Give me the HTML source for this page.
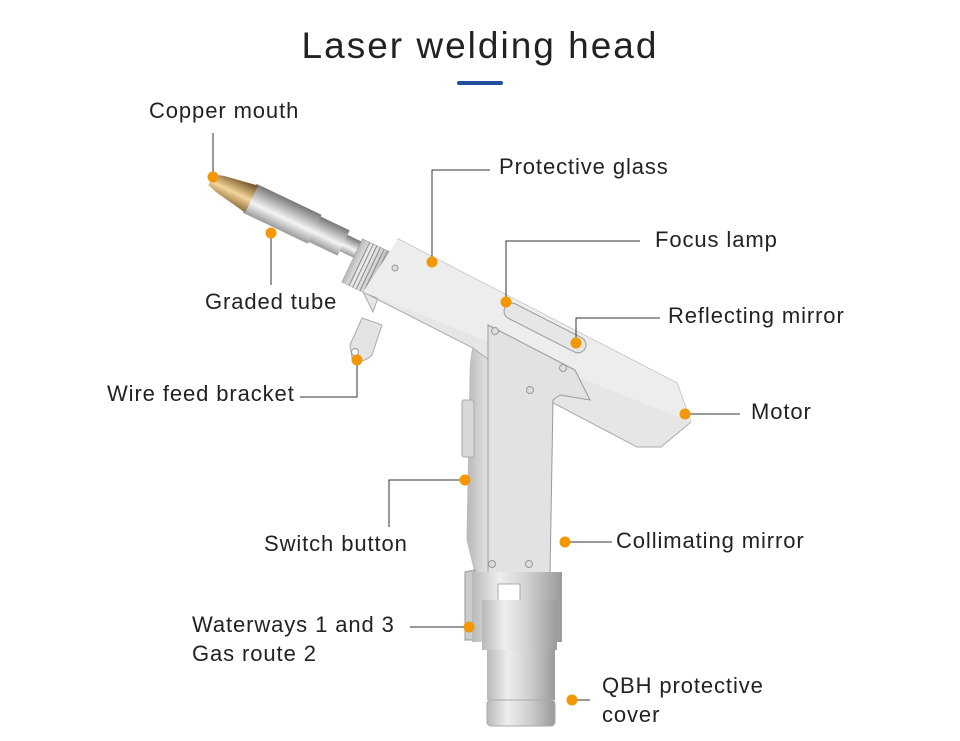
<!DOCTYPE html>
<html><head><meta charset="utf-8"><style>
html,body{margin:0;padding:0;background:#fff;}
svg{display:block;}
text{font-family:"Liberation Sans",Arial,sans-serif;fill:#222;}
</style></head><body>
<svg width="960" height="741" viewBox="0 0 960 741" xmlns="http://www.w3.org/2000/svg">
<defs>
<linearGradient id="met" x1="0" y1="0" x2="1" y2="0">
<stop offset="0" stop-color="#b8b8b8"/><stop offset="0.3" stop-color="#eeeeee"/><stop offset="0.6" stop-color="#d2d2d2"/><stop offset="1" stop-color="#9a9a9a"/></linearGradient>
<linearGradient id="tube" x1="0" y1="0" x2="0" y2="1">
<stop offset="0" stop-color="#9a9a9a"/><stop offset="0.4" stop-color="#f4f4f4"/><stop offset="1" stop-color="#777"/></linearGradient>
<linearGradient id="cop" x1="0" y1="0" x2="0" y2="1">
<stop offset="0" stop-color="#8a6a3a"/><stop offset="0.45" stop-color="#f3d79a"/><stop offset="1" stop-color="#6a4a20"/></linearGradient>
</defs>

<text x="480" y="58" font-size="37" text-anchor="middle" letter-spacing="2" fill="#222">Laser welding head</text>
<rect x="457" y="81" width="46" height="4" rx="2" fill="#1e4f9a"/>

<g transform="translate(396,268) rotate(205.5)">
  <rect x="0" y="-9" width="60" height="18" fill="url(#tube)"/>
  <rect x="58" y="-14" width="34" height="28" fill="url(#tube)"/>
  <rect x="90" y="-16" width="72" height="32" fill="url(#tube)"/>
  <path d="M160,-15 L195,-9 L205,-6 L205,6 L195,9 L160,15 Z" fill="url(#cop)"/>
</g>
<g transform="translate(372,270) rotate(25.5)">
  <rect x="-22" y="-24" width="38" height="48" fill="url(#met)" stroke="#999" stroke-width="0.5"/>
  <g stroke="#888" stroke-width="1">
    <line x1="-14" y1="-24" x2="-14" y2="24"/><line x1="-10" y1="-24" x2="-10" y2="24"/><line x1="-6" y1="-24" x2="-6" y2="24"/><line x1="-2" y1="-24" x2="-2" y2="24"/><line x1="2" y1="-24" x2="2" y2="24"/><line x1="6" y1="-24" x2="6" y2="24"/><line x1="10" y1="-24" x2="10" y2="24"/>
  </g>
</g>
<path d="M350,345 L362,318 L382,325 L372,355 Q362,365 352,358 Z" fill="#e4e4e4" stroke="#aaa"/>
<circle cx="355" cy="352" r="3.5" fill="#fff" stroke="#999"/>

<path d="M473,348 Q470,360 470,380 L467,540 L482,600 L555,600 L548,567 L545,400 L533,393 Z" fill="url(#met)" stroke="#bbb"/>
<path d="M398,239 L677,383 L691,422 L661,447 L637,447 L542,397 L533,393 L473,348 L363,292 L373,312 Z" fill="#e6e6e6" stroke="#aaa"/>
<path d="M398,239 L677,383 L691,422 L363,292 Z" fill="#ededed"/>
<path d="M488,325 L575,370 L590,400 L560,395 L553,400 L550,575 L488,575 Z" fill="#e2e2e2" stroke="#999" stroke-width="1"/>
<rect x="500" y="320" width="90" height="16" rx="8" transform="rotate(27 545 328)" fill="#e6e6e6" stroke="#999"/>
<g fill="#ddd" stroke="#999"><circle cx="495" cy="331" r="3.5"/><circle cx="563" cy="368" r="3.5"/><circle cx="530" cy="390" r="3.5"/><circle cx="492" cy="564" r="3.5"/><circle cx="529" cy="564" r="3.5"/><circle cx="395" cy="268" r="3" /></g>
<rect x="462" y="400" width="12" height="57" rx="2" fill="#d8d8d8" stroke="#aaa"/>
<path d="M465,572 L475,570 L475,640 L465,640 Z" fill="#ccc" stroke="#999"/>
<rect x="472" y="572" width="90" height="70" fill="url(#met)"/>
<path d="M498,584 L520,584 L520,615 Q508,625 498,615 Z" fill="#fff" stroke="#aaa"/>
<rect x="482" y="600" width="75" height="50" fill="url(#met)"/>
<rect x="487" y="650" width="68" height="50" fill="url(#met)"/>
<rect x="487" y="700" width="68" height="26" rx="4" fill="url(#met)" stroke="#aaa"/>

<g stroke="#333" stroke-width="1" fill="none">
<polyline points="213,177 213,133"/>
<polyline points="271,233 271,285"/>
<polyline points="432,262 432,170 490,170"/>
<polyline points="506,302 506,241 640,241"/>
<polyline points="576,343 576,318 660,318"/>
<polyline points="357,360 357,397 300,397"/>
<polyline points="685,414 740,414"/>
<polyline points="465,480 389,480 389,527"/>
<polyline points="565,542 612,542"/>
<polyline points="469,627 410,627"/>
<polyline points="572,700 590,700"/>
</g>
<g fill="#f39800">
<circle cx="213" cy="177" r="5.5"/><circle cx="271" cy="233" r="5.5"/><circle cx="432" cy="262" r="5.5"/><circle cx="506" cy="302" r="5.5"/><circle cx="576" cy="343" r="5.5"/><circle cx="357" cy="360" r="5.5"/><circle cx="685" cy="414" r="5.5"/><circle cx="465" cy="480" r="5.5"/><circle cx="565" cy="542" r="5.5"/><circle cx="469" cy="627" r="5.5"/><circle cx="572" cy="700" r="5.5"/>
</g>
<g font-size="22" letter-spacing="0.9">
<text x="149" y="118">Copper mouth</text>
<text x="499" y="174">Protective glass</text>
<text x="655" y="247">Focus lamp</text>
<text x="668" y="323">Reflecting mirror</text>
<text x="205" y="309">Graded tube</text>
<text x="107" y="401">Wire feed bracket</text>
<text x="751" y="419">Motor</text>
<text x="264" y="551">Switch button</text>
<text x="616" y="548">Collimating mirror</text>
<text x="192" y="632">Waterways 1 and 3</text>
<text x="192" y="661">Gas route 2</text>
<text x="602" y="693">QBH protective</text>
<text x="602" y="722">cover</text>
</g>
</svg>
</body></html>
